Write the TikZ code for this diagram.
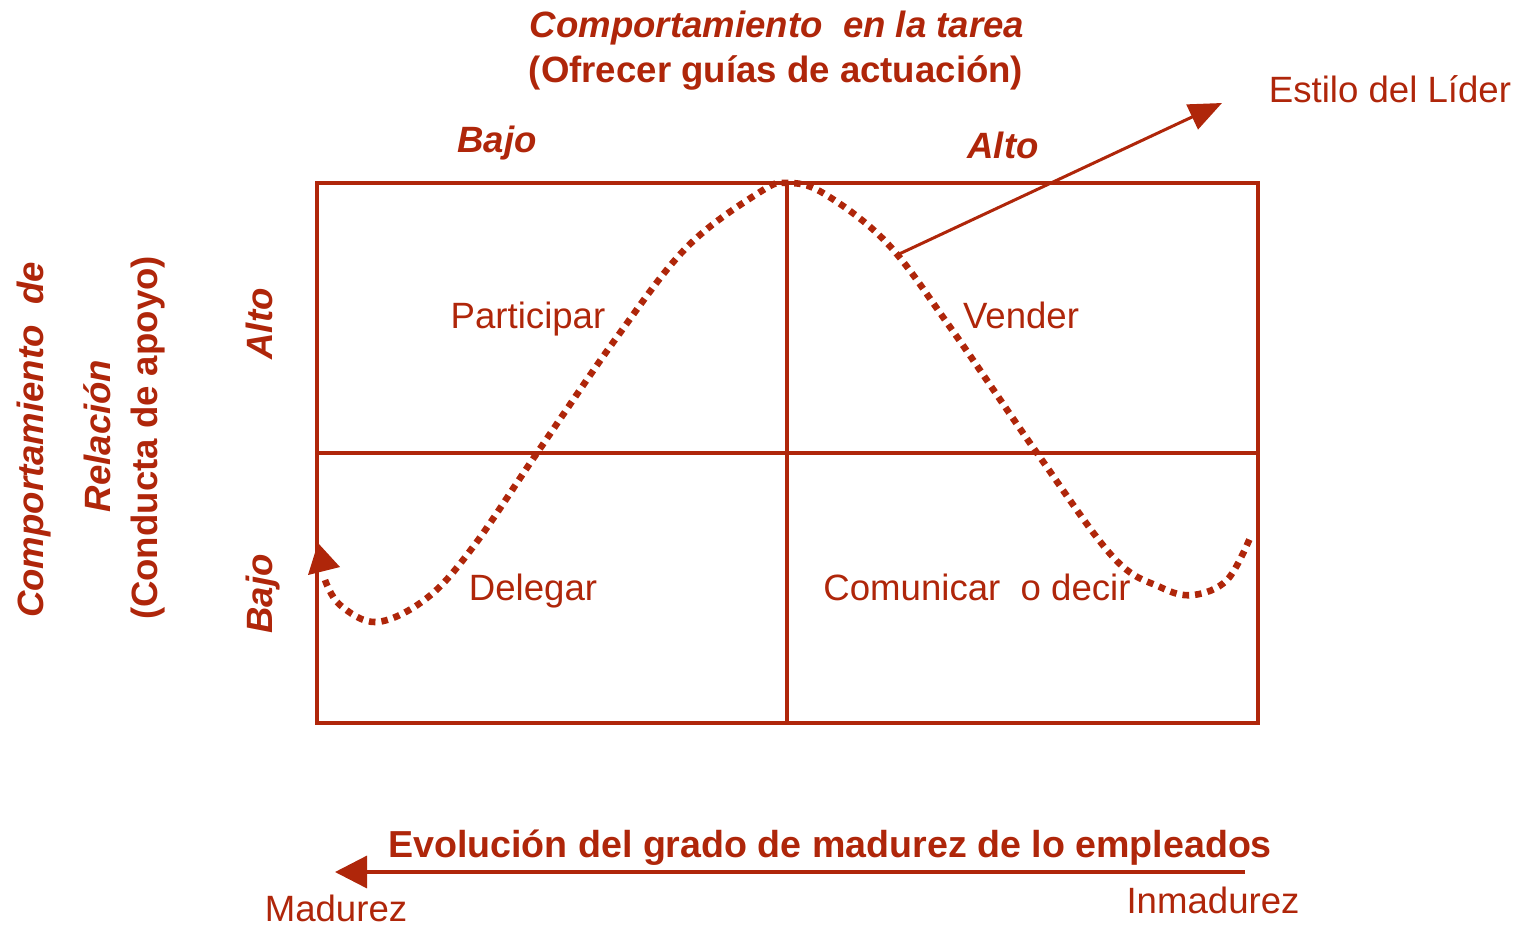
\documentclass[tikz,border=0pt]{standalone}
\usepackage{fontspec}
\setmainfont{Liberation Sans}
\usetikzlibrary{arrows.meta}
\definecolor{rojo}{RGB}{175,38,10}
\begin{document}
\begin{tikzpicture}[x=0.5pt,y=-0.5pt,
  txt/.style={text=rojo, inner sep=0pt, anchor=base, font=\fontsize{18.3}{22}\selectfont},
  btxt/.style={txt, font=\fontsize{18.3}{22}\selectfont\bfseries},
  bitxt/.style={txt, font=\fontsize{18.3}{22}\selectfont\bfseries\itshape},
  gridline/.style={draw=rojo, line width=2pt},
  dots/.style={draw=rojo, line width=3.3pt, dash pattern=on 3.3pt off 3pt},
  arrowline/.style={draw=rojo, line width=1.5pt},
]
\useasboundingbox (0,0) rectangle (1526,928);
% grid
\draw[gridline] (317,183) rectangle (1258,723);
\draw[gridline] (787,183) -- (787,723);
\draw[gridline] (317,453) -- (1258,453);
% dotted curve
\draw[dots] plot[smooth, tension=0.6] coordinates {(325,580) (340,605) (377,622) (427,598) (473,547) (537,453) (617,337) (687,247) (760,192) (787,183) (823,193) (887,243) (950,327) (1037,453) (1113,557) (1160,587) (1193,595) (1227,580) (1250,538)};
\fill[rojo] (318,543) -- (308,575) -- (340,567) -- cycle;
% leader style arrow
\coordinate (cs) at (897,255);
\coordinate (ce) at (1222,103);
\draw[arrowline, -{Triangle[length=16.5pt,width=13.5pt]}] (cs) -- (ce);
% texts
\node[bitxt] (t1) at (777,37) {Comportamiento\ \ en la tarea};
\node[btxt] (t2) at (776,82) {(Ofrecer guías de actuación)};
\node[bitxt] (bajo) at (497,152) {Bajo};
\node[bitxt] (alto) at (1003,158) {Alto};
\node[txt] (estilo) at (1390,102) {Estilo del Líder};
\node[txt] (part) at (528,328) {Participar};
\node[txt] (vend) at (1021,328) {Vender};
\node[txt] (deleg) at (533,600) {Delegar};
\node[txt] (comun) at (977,600) {Comunicar\ \ o decir};
% left rotated
\node[bitxt, rotate=90] (l1) at (43,440) {Comportamiento\ \ de};
\node[bitxt, rotate=90] (l2) at (110,436) {Relación};
\node[btxt, rotate=90] (l3) at (157,438) {(Conducta de apoyo)};
\node[bitxt, rotate=90] (l4) at (272,324) {Alto};
\node[bitxt, rotate=90] (l5) at (272,594) {Bajo};
% bottom
\node[btxt, font=\fontsize{18.8}{22}\selectfont\bfseries] (evo) at (830,857) {Evolución del grado de madurez de lo empleados};
\coordinate (be) at (1245,872);
\coordinate (bs) at (335,872);
\draw[arrowline, line width=1.7pt, -{Triangle[length=16pt,width=16pt]}] (be) -- (bs);
\node[txt] (mad) at (336,921) {Madurez};
\node[txt] (inm) at (1213,913) {Inmadurez};
\end{tikzpicture}
\end{document}
